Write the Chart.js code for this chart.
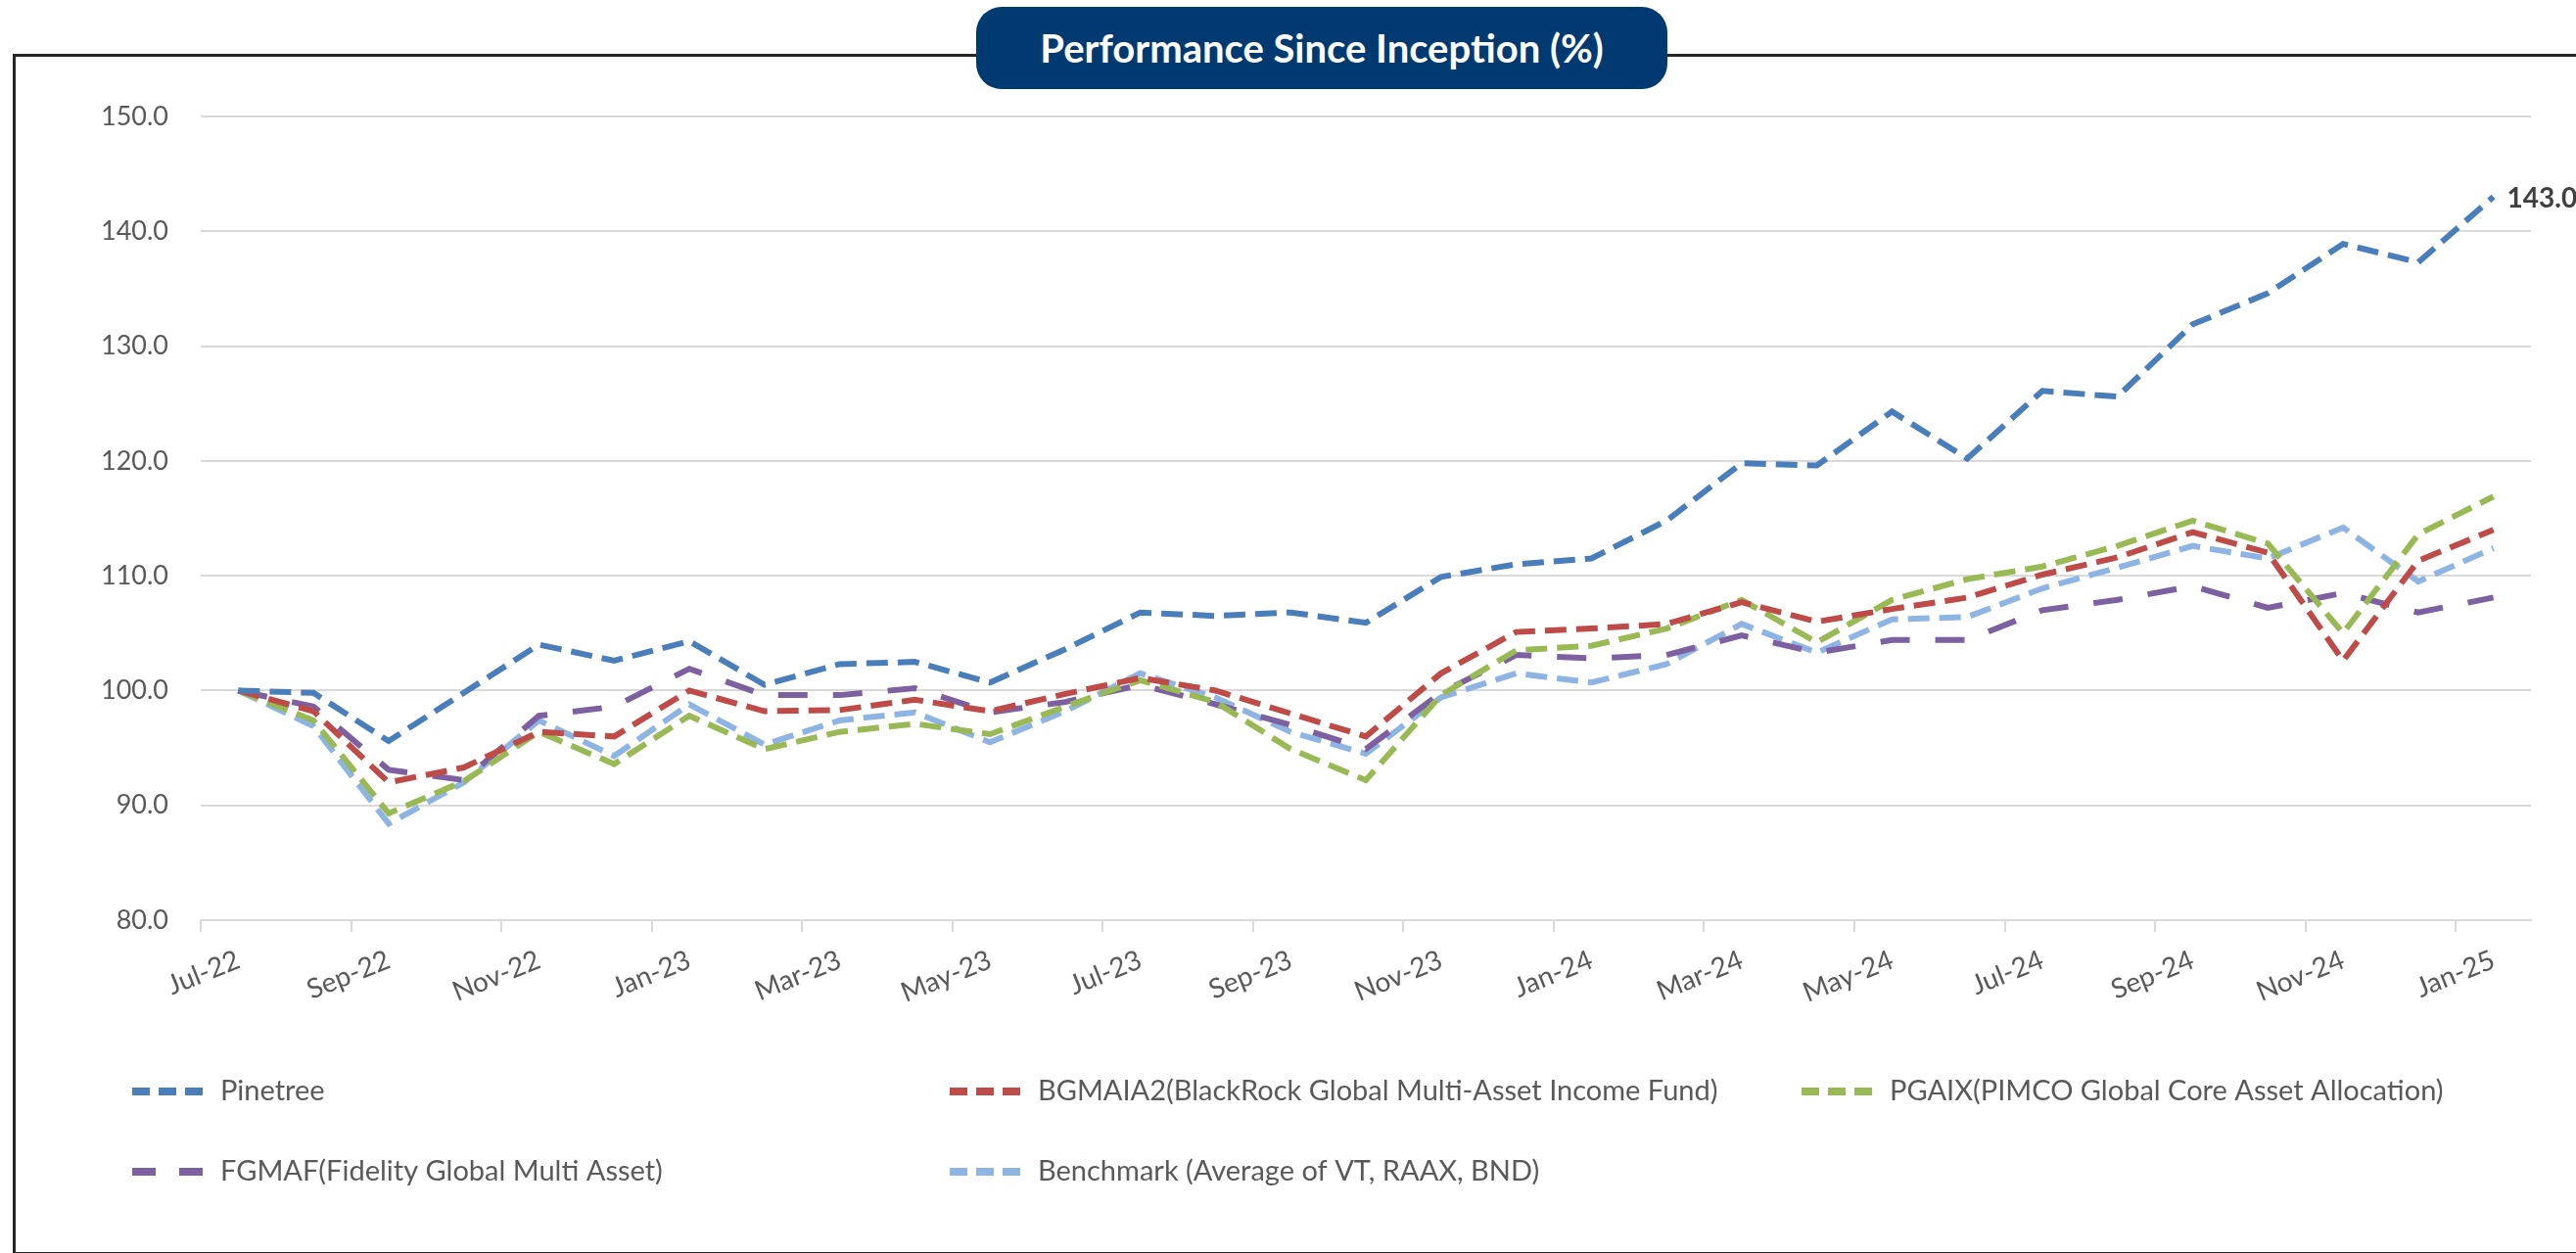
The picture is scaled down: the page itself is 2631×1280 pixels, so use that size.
<!DOCTYPE html>
<html>
<head>
<meta charset="utf-8">
<script src="https://cdn.jsdelivr.net/npm/chart.js@4.4.1/dist/chart.umd.min.js"></script>
<style>
  html, body { margin: 0; padding: 0; background: #fff; }
  #wrap { position: relative; width: 2631px; height: 1280px; overflow: hidden; }
  #frame { position: absolute; left: 13px; top: 55px; width: 2700px; height: 1221px; border: 3px solid #262626; }
  #title {
    position: absolute; left: 997px; top: 7px; width: 706px; height: 84px;
    background: #003a70; border-radius: 26px; color: #fff;
    font: bold 40px Lato, "Open Sans", sans-serif; line-height: 84px; text-align: center;
  }
  canvas { position: absolute; left: 0; top: 0; }
</style>
</head>
<body>
<div id="wrap">
  <div id="frame"></div>
  <canvas id="myChart" width="2631" height="1280"></canvas>
  <div id="title">Performance Since Inception (%)</div>
</div>
<script>
const months = [
  'Jul-22', 'Aug-22', 'Sep-22', 'Oct-22', 'Nov-22', 'Dec-22',
  'Jan-23', 'Feb-23', 'Mar-23', 'Apr-23', 'May-23', 'Jun-23', 'Jul-23', 'Aug-23', 'Sep-23', 'Oct-23', 'Nov-23', 'Dec-23',
  'Jan-24', 'Feb-24', 'Mar-24', 'Apr-24', 'May-24', 'Jun-24', 'Jul-24', 'Aug-24', 'Sep-24', 'Oct-24', 'Nov-24', 'Dec-24',
  'Jan-25'
]

const pinetree = [100.0, 99.8, 95.6, 99.8, 104.0, 102.6, 104.3, 100.5, 102.3, 102.5, 100.7, 103.6, 106.8, 106.5, 106.8, 105.9,
  109.9, 111.0, 111.5, 114.8, 119.8, 119.6, 124.3, 120.2, 126.1, 125.6, 131.9, 134.6, 138.9, 137.3, 143.0]
const bgmaia2 = [100.0, 98.2, 92.0, 93.3, 96.4, 96.0, 100.0, 98.2, 98.3, 99.2, 98.2, 99.7, 101.1, 100.0, 98.0, 96.0,
  101.5, 105.1, 105.4, 105.8, 107.7, 106.0, 107.1, 108.1, 110.1, 111.6, 113.8, 112.0, 102.6, 111.3, 114.0]
const pgaix = [100.0, 97.4, 89.3, 92.1, 96.4, 93.6, 97.8, 94.9, 96.4, 97.1, 96.2, 98.6, 100.9, 99.0, 94.9, 92.2,
  99.6, 103.5, 103.9, 105.4, 107.9, 104.2, 107.9, 109.7, 110.8, 112.6, 114.8, 112.8, 105.0, 113.6, 116.9]
const fgmaf = [100.0, 98.6, 93.1, 92.2, 97.8, 98.6, 101.9, 99.6, 99.6, 100.2, 98.1, 99.0, 100.5, 98.8, 97.0, 94.9,
  99.8, 103.1, 102.8, 103.1, 104.8, 103.3, 104.4, 104.4, 107.0, 107.9, 109.1, 107.2, 108.5, 106.8, 108.1]
const benchmark = [100.0, 96.9, 88.4, 92.0, 97.4, 94.3, 98.8, 95.3, 97.4, 98.1, 95.5, 98.2, 101.5, 99.4, 96.4, 94.5,
  99.4, 101.5, 100.7, 102.3, 105.8, 103.3, 106.2, 106.4, 108.9, 110.7, 112.6, 111.5, 114.2, 109.5, 112.4]

const seriesNames = [
  'Pinetree',
  'BGMAIA2(BlackRock Global Multi-Asset Income Fund)',
  'PGAIX(PIMCO Global Core Asset Allocation)',
  'FGMAF(Fidelity Global Multi Asset)',
  'Benchmark (Average of VT, RAAX, BND)'
]
const yTicks = [80, 90, 100, 110, 120, 130, 140, 150]

const FONT = 'Lato, "Open Sans", sans-serif'
const GREY = '#595959'
const GRID = '#d9d9d9'
const shortDash = [22, 10]
const longDash = [30, 26]

function line(label, data, color, dash) {
  return {
    label: label,
    data: data,
    borderColor: color,
    backgroundColor: color,
    borderWidth: 6,
    borderDash: dash,
    borderCapStyle: 'butt',
    pointRadius: 0,
    tension: 0,
    fill: false
  }
}

// excel style legend, fixed slots
const legendSlots = [[135, 1115], [970, 1115], [1840, 1115], [135, 1197], [970, 1197]]
const legendPlugin = {
  id: 'excelLegend',
  afterDraw(chart) {
    const ctx = chart.ctx
    ctx.save()
    chart.data.datasets.forEach((ds, i) => {
      const [x, y] = legendSlots[i]
      ctx.strokeStyle = ds.borderColor
      ctx.lineWidth = 8
      ctx.setLineDash(ds.borderDash === longDash ? [24, 24] : [18, 9])
      ctx.beginPath()
      ctx.moveTo(x, y)
      ctx.lineTo(x + 72, y)
      ctx.stroke()
      ctx.setLineDash([])
      ctx.fillStyle = GREY
      ctx.font = '29px ' + FONT
      ctx.textBaseline = 'middle'
      ctx.textAlign = 'left'
      ctx.fillText(ds.label, x + 90, y)
    })
    ctx.restore()
  }
}

// value label at the end of Pinetree
const endLabel = {
  id: 'endLabel',
  afterDatasetsDraw(chart) {
    const meta = chart.getDatasetMeta(0)
    const pt = meta.data[meta.data.length - 1]
    const ctx = chart.ctx
    ctx.save()
    ctx.fillStyle = '#404040'
    ctx.font = 'bold 28px ' + FONT
    ctx.textBaseline = 'middle'
    ctx.fillText(pinetree[pinetree.length - 1].toFixed(1), pt.x + 14, pt.y + 2)
    ctx.restore()
  }
}

const ctx = document.getElementById('myChart')
const chart = new Chart(ctx, {
  type: 'line',
  data: {
    labels: months,
    datasets: [
      line(seriesNames[0], pinetree, '#4a7ebb', shortDash),
      line(seriesNames[1], bgmaia2, '#be4b48', shortDash),
      line(seriesNames[2], pgaix, '#98b954', shortDash),
      line(seriesNames[3], fgmaf, '#7d60a0', longDash),
      line(seriesNames[4], benchmark, '#8eb4e3', shortDash)
    ]
  },
  options: {
    responsive: false,
    animation: false,
    devicePixelRatio: 1,
    layout: { padding: { left: 0, top: 119, right: 46, bottom: 240 } },
    plugins: { legend: { display: false }, tooltip: { enabled: false } },
    scales: {
      x: {
        offset: true,
        afterFit(scale) { scale.height = 100 },
        grid: {
          offset: true,
          drawOnChartArea: false,
          drawTicks: true,
          tickLength: 12,
          lineWidth: 2,
          color: (c) => (c.type === 'tick' && c.index % 2 === 0) ? GRID : 'rgba(0,0,0,0)'
        },
        border: { display: true, color: GRID, width: 2 },
        ticks: {
          autoSkip: false,
          minRotation: 22,
          maxRotation: 22,
          padding: 12,
          color: GREY,
          font: { family: FONT, size: 28 },
          callback: function (val, i) { return i % 2 === 0 ? this.getLabelForValue(val) : '' }
        }
      },
      y: {
        min: yTicks[0],
        max: yTicks[yTicks.length - 1],
        afterFit(scale) { scale.width = 205 },
        afterBuildTicks(scale) { scale.ticks = yTicks.map(v => ({ value: v })) },
        grid: { color: GRID, lineWidth: 2, drawTicks: false },
        border: { display: false },
        ticks: {
          padding: 33,
          color: GREY,
          font: { family: FONT, size: 27 },
          callback: (v) => Number(v).toFixed(1)
        }
      }
    }
  },
  plugins: [legendPlugin, endLabel]
})
</script>
</body>
</html>
